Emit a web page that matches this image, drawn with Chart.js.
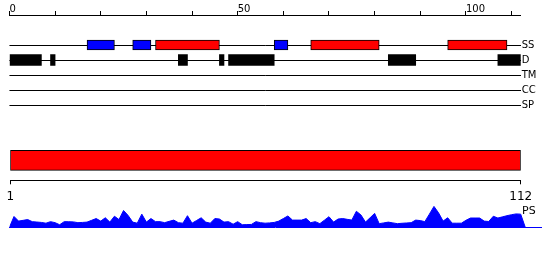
<!DOCTYPE html>
<html><head><meta charset="utf-8">
<script src="https://cdn.jsdelivr.net/npm/chart.js@4"></script>
<style>
html,body{margin:0;padding:0;background:#fff;}
#wrap{position:relative;width:550px;height:260px;overflow:hidden;background:#fff;}
#wrap canvas{position:absolute;left:0;top:0;}
#psLabel{position:absolute;left:522px;top:205px;font-family:'DejaVu Sans';font-size:11px;line-height:11px;color:#000;}
</style></head><body>
<div id="wrap">
<canvas id="cTracks" width="550" height="260"></canvas>
<canvas id="cDomain" width="550" height="260"></canvas>
<canvas id="cPS" width="550" height="260"></canvas>
<div id="psLabel">PS</div>
</div>
<script>
// ---- data ----
const seqLength = 112;
const trackNames = ['SS', 'D', 'TM', 'CC', 'SP'];
const topTickValues = [0, 10, 20, 30, 40, 50, 60, 70, 80, 90, 100, 110];
const topTickLabels = ['0', '', '', '', '', '50', '', '', '', '', '100', ''];
const ssHelix = [[32, 46], [66, 81], [96, 109]];
const ssStrand = [[17, 23], [27, 31], [58, 61]];
const disorder = [[0, 7], [9, 10], [37, 39], [46, 47], [48, 58], [83, 89], [107, 112]];
const tmRegions = [];
const ccRegions = [];
const spRegions = [];
const domainRanges = [[1, 112]];
const domainTickValues = [1, 112];
const psValues = [
  14, 8, 9, 10, 7.3, 6.8, 6.3, 5.3, 7.3, 6,
  3.3, 7.3, 7.2, 7, 6, 6.3, 6.7, 9, 11.3, 8,
  12.3, 6.7, 14.3, 10, 21.7, 15.3, 6.7, 5.3, 17, 6.7,
  11.3, 7.3, 7.3, 6, 7.7, 9.3, 6, 5.3, 15, 5.3,
  8.8, 12.3, 6.7, 5.3, 11.3, 10.7, 6.7, 7.3, 4, 7.3,
  3.3, 3.5, 3.7, 7.3, 6, 5.3, 5.7, 6.3, 8, 11.3,
  14.7, 9.3, 9.3, 9.3, 11.3, 6, 7.3, 4.7, 9.2, 13.7,
  6.7, 10.7, 11.3, 10.3, 9.3, 20.7, 16, 6.7, 12.3, 18,
  4.7, 5.7, 6.7, 5.7, 4.7, 5.2, 5.6, 6, 9.3, 8.7,
  7.3, 17, 27, 18.7, 8, 12.3, 5.3, 5.3, 5.3, 9,
  12, 12, 12, 8, 7.5, 14.3, 12, 13.5, 15, 16.3, 17.3, 17
];

// ---- setup ----
Chart.defaults.font.family = "'DejaVu Sans', sans-serif";
Chart.defaults.color = '#000';
Chart.defaults.animation = false;
Chart.defaults.responsive = false;
Chart.defaults.plugins.legend.display = false;
Chart.defaults.plugins.tooltip.enabled = false;

const ROW0 = 2; // row value of first track
const rowOf = name => trackNames.indexOf(name) + ROW0;
const toBars = (ranges, name) => ranges.map(r => ({ x: r, y: rowOf(name) }));

new Chart(document.getElementById('cTracks'), {
  type: 'bar',
  data: {
    datasets: [
      { data: toBars(ssStrand, 'SS'), backgroundColor: '#0000ff', borderColor: '#000', borderWidth: 1, borderSkipped: false, barThickness: 10, grouped: false },
      { data: toBars(ssHelix, 'SS'), backgroundColor: '#ff0000', borderColor: '#000', borderWidth: 1, borderSkipped: false, barThickness: 10, grouped: false },
      { data: toBars(disorder, 'D'), backgroundColor: '#000', borderColor: '#000', borderWidth: 0, barThickness: 11, grouped: false },
      { data: toBars(tmRegions, 'TM'), backgroundColor: '#000', barThickness: 10, grouped: false },
      { data: toBars(ccRegions, 'CC'), backgroundColor: '#000', barThickness: 10, grouped: false },
      { data: toBars(spRegions, 'SP'), backgroundColor: '#000', barThickness: 10, grouped: false }
    ]
  },
  options: {
    indexAxis: 'y',
    layout: { padding: { left: 9.44, right: 0, top: 0, bottom: 155 } },
    scales: {
      x: {
        type: 'linear', position: 'top', min: 0, max: seqLength,
        afterBuildTicks: s => { s.ticks = topTickValues.map(v => ({ value: v })); },
        afterFit: s => { s.height = 15; },
        ticks: {
          autoSkip: false, maxRotation: 0, align: 'start', padding: -4,
          font: { size: 10 },
          callback: (v) => topTickLabels[topTickValues.indexOf(v)] ?? ''
        },
        grid: { drawOnChartArea: false, drawTicks: true, tickLength: 4, color: '#000' },
        border: { display: true, color: '#000', width: 1 }
      },
      y: {
        type: 'linear', position: 'right', reverse: true, min: 0, max: ROW0 + trackNames.length - 1,
        offset: false,
        afterBuildTicks: s => { s.ticks = trackNames.map(n => ({ value: rowOf(n) })); },
        afterFit: s => { s.width = 29.3; },
        ticks: {
          autoSkip: false, padding: 1, font: { size: 10 },
          callback: (v) => trackNames[v - ROW0]
        },
        grid: { offset: false, drawTicks: false, color: '#000', lineWidth: 1 },
        border: { display: false }
      }
    }
  }
});

new Chart(document.getElementById('cDomain'), {
  type: 'bar',
  data: {
    datasets: [
      { data: domainRanges.map(r => ({ x: r, y: 1 })), backgroundColor: '#ff0000', borderColor: '#000', borderWidth: 1, borderSkipped: false, barThickness: 20, grouped: false }
    ]
  },
  options: {
    indexAxis: 'y',
    layout: { padding: { left: 10.3, right: 29.3, top: 140.3, bottom: 53.7 } },
    scales: {
      x: {
        type: 'linear', position: 'bottom', min: domainTickValues[0], max: domainTickValues[domainTickValues.length - 1],
        afterBuildTicks: s => { s.ticks = domainTickValues.map(v => ({ value: v })); },
        afterFit: s => { s.height = 26; },
        ticks: { autoSkip: false, maxRotation: 0, padding: 5, font: { size: 12 } },
        grid: { display: true, drawOnChartArea: false, drawTicks: true, tickLength: 4, color: '#000', lineWidth: 1 },
        border: { display: true, color: '#000', width: 1 }
      },
      y: { type: 'linear', display: false, min: 0, max: 2, offset: false }
    }
  }
});

const psData = [{ x: 0, y: 0 }]
  .concat(psValues.map((v, i) => ({ x: i + 1, y: v })))
  .concat([{ x: seqLength + 1, y: 0 }]);

new Chart(document.getElementById('cPS'), {
  type: 'line',
  data: {
    datasets: [{
      data: psData, borderColor: '#0000ff', backgroundColor: '#0000ff', borderWidth: 1,
      fill: 'origin', pointRadius: 0, tension: 0
    }]
  },
  options: {
    layout: { padding: { left: 9.44, right: 8.3, top: 200, bottom: 24.7 } },
    scales: {
      x: {
        type: 'linear', min: 0, max: 116.6,
        ticks: { display: false },
        grid: { display: false },
        border: { display: true, color: '#0000ff', width: 1 }
      },
      y: { type: 'linear', display: false, min: 0, max: 35.3 }
    }
  }
});
</script>
</body></html>
